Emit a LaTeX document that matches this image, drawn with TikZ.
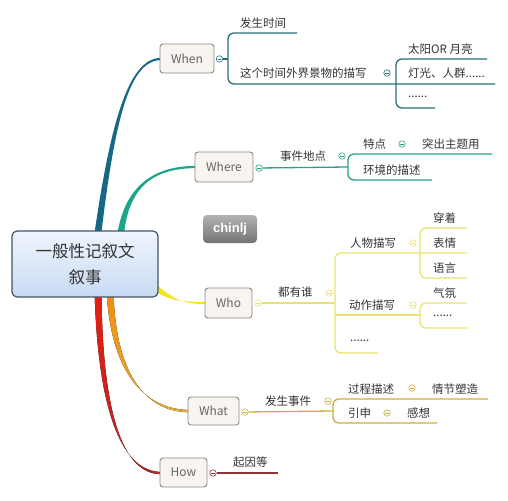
\documentclass[tikz,border=0pt]{standalone}
\usepackage{fontspec}
\newfontfamily\cjk{Noto Sans CJK SC}
\newfontfamily\wmfont{Liberation Sans}
\usepackage{tikz}
\usetikzlibrary{calc, positioning}
\definecolor{whenC}{RGB}{22,104,135}
\definecolor{whenS}{RGB}{40,110,120}
\definecolor{whereC}{RGB}{26,166,138}
\definecolor{whereS}{RGB}{42,160,135}
\definecolor{whoC}{RGB}{243,228,30}
\definecolor{whoS}{RGB}{232,226,110}
\definecolor{whatC}{RGB}{240,140,15}
\definecolor{whatE}{RGB}{228,170,50}
\definecolor{whatS}{RGB}{205,175,60}
\definecolor{howC}{RGB}{232,30,15}
\definecolor{howE}{RGB}{176,40,40}
\definecolor{howS}{RGB}{140,55,55}
\definecolor{boxFill}{RGB}{248,245,240}
\definecolor{boxLine}{RGB}{140,135,130}
\definecolor{mainTop}{RGB}{240,245,253}
\definecolor{mainBot}{RGB}{200,218,243}
\definecolor{mainLine}{RGB}{70,85,100}
% tapered main branch: style, start, control 1, control 2, end, half width at start
\newcommand{\limb}[6]{%
  \fill[#1] ($#2-#6$) .. controls ($#3-0.6*#6$) and ($#4-(0,1.3)$) .. ($#5-(0,1.1)$)
    -- ($#5+(0,1.1)$) .. controls ($#4+(0,1.3)$) and ($#3+0.6*#6$) .. ($#2+#6$) -- cycle;}

\begin{document}
\begin{tikzpicture}[x=1pt, y=-1pt,
  topic/.style={draw=boxLine, fill=boxFill, rounded corners=3pt, line width=0.9pt,
        inner sep=0pt, font=\cjk\fontsize{12}{14}\selectfont, text=black!60},
  lbl/.style={anchor=west, inner sep=0pt, font=\cjk\fontsize{11.5}{13}\selectfont, text=black!80},
  knob/.style={circle, draw=#1, fill=white, line width=0.6pt, inner sep=0pt, minimum size=6.5pt,
        path picture={\draw[#1, line width=0.6pt]
          ([xshift=1.6pt]path picture bounding box.west) -- ([xshift=-1.6pt]path picture bounding box.east);}},
  sub/.style={line width=1.3pt, rounded corners=6pt}]
  \useasboundingbox (0,0) rectangle (508,500);

  % main branches
  \limb{whenC}{(97,240)}{(112,125)}{(128,59)}{(161,59)}{(3.5,0)}
  \limb{whereC}{(120,240)}{(125,185)}{(155,167)}{(196,167)}{(3.5,0)}
  \limb{whoC}{(145,280)}{(170,300)}{(180,303)}{(206,303)}{(2,-3.5)}
  \limb{top color=whatC, bottom color=whatE}{(110,290)}{(113,380)}{(150,411)}{(189,411)}{(3.5,0)}
  \limb{top color=howC, bottom color=howE}{(98,290)}{(100,420)}{(125,473)}{(161,473)}{(3.5,0)}

  \node[draw=mainLine, top color=mainTop, bottom color=mainBot, rounded corners=5pt,
        line width=1.2pt, minimum width=146pt, minimum height=66pt, align=center,
        font=\cjk\fontsize{16.5}{26}\selectfont, text=black!80] (main) at (85,264)
    {一般性记叙文\\叙事};

  \node[draw=none, top color=black!30, bottom color=black!55, rounded corners=4pt,
        minimum width=54pt, minimum height=28pt, text=white,
        font=\wmfont\bfseries\fontsize{13}{15}\selectfont] (mark) at (230,229) {chinlj};

  % When
  \node[topic, minimum width=54pt, minimum height=29pt] (when) at (187,58.5) {When};
  \node[knob=whenS] (kwhen) at (219.5,59) {};
  \coordinate (bwhen) at (228,59);
  \draw[whenS, line width=1.3pt] (kwhen) -- (bwhen);
  \draw[whenS, sub] (297,33) -- (228,33) -- (228,84) -- (495,84);
  \draw[whenS, sub] (487,59) -- (396,59) -- (396,108) -- (435,108);
  \node[lbl] (time) at (240,23) {发生时间};
  \node[lbl] (scene) at (240,73) {这个时间外界景物的描写};
  \node[knob=whenS] (kscene) at (387,73) {};
  \node[lbl] (sun) at (408,49) {太阳OR 月亮};
  \node[lbl] (light) at (408,73) {灯光、人群......};
  \node[lbl] (etc1) at (408,97) {......};

  % Where
  \node[topic, minimum width=58pt, minimum height=30pt] (where) at (224,167) {Where};
  \node[knob=whereS] (kwhere) at (259,168) {};
  \coordinate (bwhere) at (348,167);
  \draw[whereS, line width=1.3pt] (kwhere) -- (bwhere);
  \draw[whereS, sub] (492,154) -- (348,154) -- (348,180) -- (432,180);
  \node[lbl] (place) at (280,156) {事件地点};
  \node[knob=whereS] (kplace) at (342,156) {};
  \node[lbl] (trait) at (363,144) {特点};
  \node[knob=whereS] (ktrait) at (402,144) {};
  \node[lbl] (theme) at (422,144) {突出主题用};
  \node[lbl] (env) at (363,170) {环境的描述};

  % Who
  \node[topic, minimum width=47pt, minimum height=30pt] (who) at (228.5,303) {Who};
  \node[knob=whoS] (kwho) at (258,303) {};
  \coordinate (bwho) at (335,303);
  \draw[whoS, line width=1.3pt] (kwho) -- (bwho);
  \draw[whoS, sub] (467,253) -- (335,253) -- (335,353) -- (378,353);
  \draw[whoS, line width=1.3pt] (335,315) -- (420,315);
  \draw[whoS, sub] (467,228) -- (420,228) -- (420,278) -- (467,278);
  \draw[whoS, sub] (467,303) -- (420,303) -- (420,328) -- (467,328);
  \node[lbl] (people) at (278,292) {都有谁};
  \node[knob=whoS] (kpeople) at (329,293) {};
  \node[lbl] (figure) at (350,243) {人物描写};
  \node[knob=whoS] (kfigure) at (413,243) {};
  \node[lbl] (dress) at (433,218) {穿着};
  \node[lbl] (face) at (433,243) {表情};
  \node[lbl] (speech) at (433,268) {语言};
  \node[lbl] (action) at (349,305) {动作描写};
  \node[knob=whoS] (kaction) at (413,305) {};
  \node[lbl] (mood) at (433,293) {气氛};
  \node[lbl] (etc2) at (433,316) {......};
  \node[lbl] (etc3) at (350,341) {......};

  % What
  \node[topic, minimum width=51pt, minimum height=28pt] (what) at (213.5,411) {What};
  \node[knob=whatS] (kwhat) at (245,412) {};
  \coordinate (bwhat) at (333,411);
  \draw[whatS, line width=1.3pt] (kwhat) -- (bwhat);
  \draw[whatS, sub] (488,399) -- (333,399) -- (333,423) -- (437,423);
  \node[lbl] (event) at (265,401) {发生事件};
  \node[knob=whatS] (kevent) at (328,401) {};
  \node[lbl] (process) at (348,389) {过程描述};
  \node[knob=whatS] (kprocess) at (412,388) {};
  \node[lbl] (plot) at (432,389) {情节塑造};
  \node[lbl] (extend) at (348,413) {引申};
  \node[knob=whatS] (kextend) at (387,413) {};
  \node[lbl] (feel) at (407,413) {感想};

  % How
  \node[topic, minimum width=47pt, minimum height=29pt] (how) at (183.5,472.5) {How};
  \node[knob=howS] (khow) at (213,473) {};
  \coordinate (ehow) at (278,473);
  \draw[howS, line width=1.3pt] (khow) -- (ehow);
  \node[lbl] (cause) at (233,462) {起因等};
\end{tikzpicture}
\end{document}
